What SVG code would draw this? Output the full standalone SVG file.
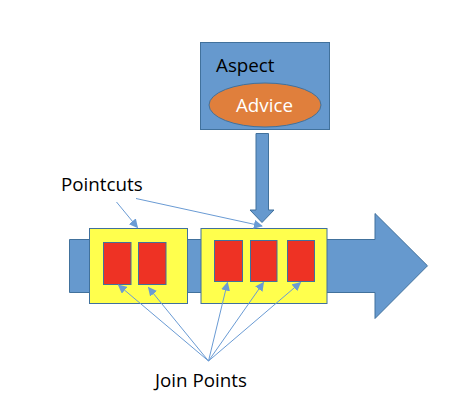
<svg xmlns="http://www.w3.org/2000/svg" width="475" height="413" viewBox="0 0 475 413">
<style>
.blue{fill:#6699CE;stroke:#41719C;stroke-width:1}
.yel{fill:#FFFF4D;stroke:#41719C;stroke-width:1}
.red{fill:#EE3224;stroke:#41719C;stroke-width:1}
.lbl{font-family:"Open Sans","Liberation Sans",sans-serif;font-size:18.8px;fill:#000}
.con{stroke:#6A9BD4;stroke-width:1;fill:none;marker-end:url(#ah)}
</style>
<defs>
<marker id="ah" viewBox="0 0 10 10" refX="9" refY="5" markerWidth="9" markerHeight="9" markerUnits="userSpaceOnUse" orient="auto">
<path d="M0,0 L10,5 L0,10 z" fill="#6A9BD4"/>
</marker>
</defs>
<rect width="475" height="413" fill="#fff"/>
<g id="flow">
<path class="blue" d="M69.5,239.5 H375 V213.5 L427.5,265.8 L375,318.5 V292.5 H69.5 z"/>
</g>
<g id="aspect">
<rect class="blue" x="200.5" y="42.5" width="129" height="87"/>
<text class="lbl" x="216" y="72">Aspect</text>
</g>
<g id="advice">
<ellipse cx="265" cy="105" rx="56" ry="22" fill="#E07F3C" stroke="#41719C"/>
<text class="lbl" x="264.5" y="111.5" text-anchor="middle" style="fill:#fff">Advice</text>
</g>
<g id="weave">
<path class="blue" d="M256,133.5 H268.5 V210 H274 L262,222.5 L250,210 H256 z"/>
</g>
<g id="module1">
<rect class="yel" x="89.5" y="228.5" width="98" height="75"/>
<rect class="red" x="103.5" y="242.5" width="27.5" height="42"/>
<rect class="red" x="138.5" y="242.5" width="27.5" height="42"/>
</g>
<g id="module2">
<rect class="yel" x="201" y="228.5" width="126" height="75"/>
<rect class="red" x="214.5" y="240.5" width="28" height="41"/>
<rect class="red" x="250.5" y="240.5" width="26.5" height="41"/>
<rect class="red" x="287.5" y="240.5" width="27" height="41"/>
</g>
<g id="pointcuts">
<text class="lbl" x="61" y="191">Pointcuts</text>
</g>
<g id="joinpoints">
<text class="lbl" x="155" y="387">Join Points</text>
</g>
<g id="connectors">
<line class="con" x1="116.5" y1="202" x2="137.5" y2="227.5"/>
<line class="con" x1="136" y1="198.5" x2="262" y2="226"/>
<line class="con" x1="208.5" y1="361" x2="118.5" y2="285"/>
<line class="con" x1="208.5" y1="361" x2="148.5" y2="287.5"/>
<line class="con" x1="208.5" y1="361" x2="227.5" y2="282.5"/>
<line class="con" x1="208.5" y1="361" x2="263.5" y2="282.5"/>
<line class="con" x1="208.5" y1="361" x2="300.5" y2="282.5"/>
</g>
</svg>
